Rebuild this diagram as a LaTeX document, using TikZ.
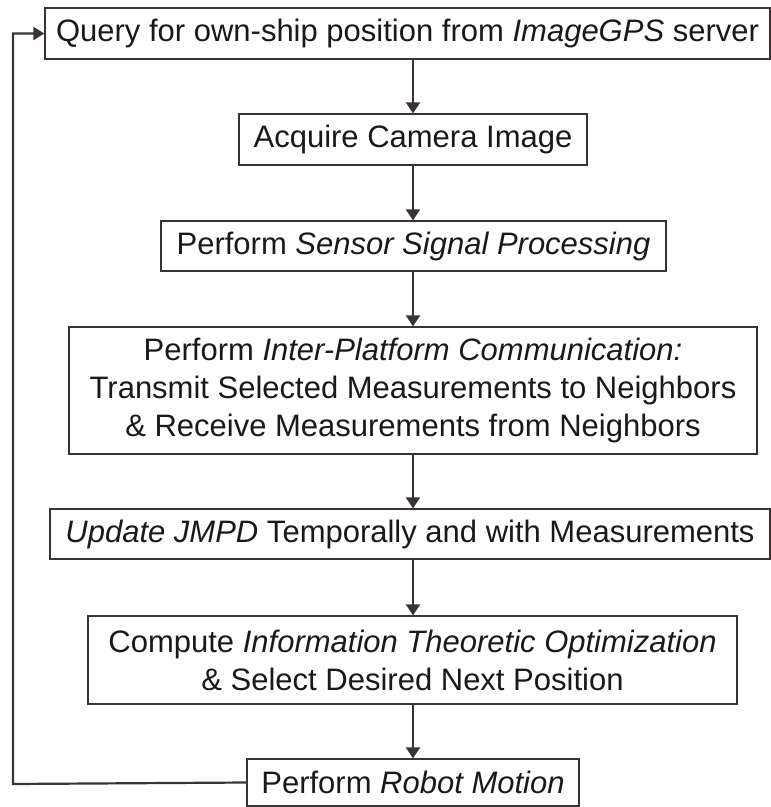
\documentclass[tikz,border=0pt]{standalone}
\usepackage{fontspec}
\setmainfont{Liberation Sans}
\usetikzlibrary{arrows.meta}
\definecolor{linec}{HTML}{3A3333}
\begin{document}
\begin{tikzpicture}[x=1pt,y=-1pt,
  box/.style={draw=linec,line width=1.3pt,inner sep=0pt,align=center,
    font=\fontsize{31}{38}\selectfont,text=black!90},
  arr/.style={draw=linec,line width=2.2pt,-{Triangle[length=11pt,width=14pt]}}]
\useasboundingbox (0,0) rectangle (771,807);
\node[box,minimum width=725,minimum height=51] (b1) at (407.5,33.5) {Query for own-ship position from \textit{ImageGPS} server};
\node[box,minimum width=348,minimum height=51] (b2) at (413,139.5) {Acquire Camera Image};
\node[box,minimum width=505,minimum height=50] (b3) at (413.5,246) {Perform \textit{Sensor Signal Processing}};
\node[box,minimum width=688,minimum height=127] (b4) at (413,390.5) {Perform \textit{Inter-Platform Communication:}\\Transmit Selected Measurements to Neighbors\\\& Receive Measurements from Neighbors};
\node[box,minimum width=720,minimum height=50] (b5) at (410,534) {\textit{Update JMPD} Temporally and with Measurements};
\node[box,minimum width=649,minimum height=88] (b6) at (412.5,660) {Compute \textit{Information Theoretic Optimization}\\\& Select Desired Next Position};
\node[box,minimum width=332,minimum height=47] (b7) at (413,782.5) {Perform \textit{Robot Motion}};
\coordinate (lb) at (13,784);
\coordinate (lt) at (13,33.5);
\draw[arr] (b1.south -| b2.north) -- (b2.north);
\draw[arr] (b2.south) -- (b3.north -| b2.south);
\draw[arr] (b3.south -| b2.south) -- (b4.north -| b2.south);
\draw[arr] (b4.south -| b2.south) -- (b5.north -| b2.south);
\draw[arr] (b5.south -| b2.south) -- (b6.north -| b2.south);
\draw[arr] (b6.south -| b2.south) -- (b7.north -| b2.south);
\draw[arr,-{Triangle[length=11pt,width=13pt]}] (b7.west) -- (lb) -- (lt) -- (b1.west);
\end{tikzpicture}
\end{document}
